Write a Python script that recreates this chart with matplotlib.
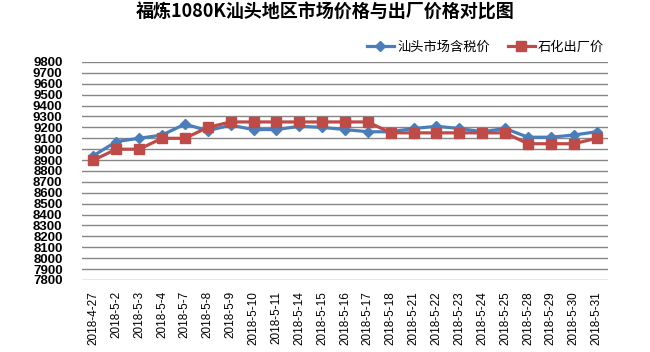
import matplotlib
matplotlib.use("Agg")
import matplotlib.pyplot as plt

plt.rcParams['font.family'] = ['Liberation Sans', 'Noto Sans CJK SC', 'DejaVu Sans']

dates = ["2018-4-27", "2018-5-2", "2018-5-3", "2018-5-4", "2018-5-7", "2018-5-8",
         "2018-5-9", "2018-5-10", "2018-5-11", "2018-5-14", "2018-5-15", "2018-5-16",
         "2018-5-17", "2018-5-18", "2018-5-21", "2018-5-22", "2018-5-23", "2018-5-24",
         "2018-5-25", "2018-5-28", "2018-5-29", "2018-5-30", "2018-5-31"]
shantou = [8940, 9070, 9100, 9130, 9230, 9170, 9220, 9180, 9180, 9210, 9200, 9180,
           9160, 9160, 9190, 9210, 9190, 9160, 9190, 9110, 9110, 9130, 9160]
factory = [8900, 9000, 9000, 9100, 9100, 9200, 9250, 9250, 9250, 9250, 9250, 9250,
           9250, 9150, 9150, 9150, 9150, 9150, 9150, 9050, 9050, 9050, 9100]
yticks = list(range(7800, 9801, 100))

fig = plt.figure(figsize=(6.5, 3.52), dpi=100)
ax = fig.add_axes([82/650, 1 - 280/352, 526/650, 218/352])

x = list(range(len(dates)))
ax.plot(x, shantou, color='#4a7ebb', lw=2.3, marker='D', ms=5.5,
        label='汕头市场含税价', zorder=3)
ax.plot(x, factory, color='#be4b48', lw=2.3, marker='s', ms=7.5,
        label='石化出厂价', zorder=4)

ax.set_xlim(-0.5, len(dates) - 0.5)
ax.set_ylim(7800, 9800)
ax.set_yticks(yticks)
ax.set_yticklabels([str(v) for v in yticks], fontsize=9.5, fontweight='bold')
ax.set_xticks(x)
ax.set_xticklabels(dates, rotation=90, fontsize=8.5)
ax.grid(axis='y', color='#868686', lw=1)
ax.set_axisbelow(True)
for s in ax.spines.values():
    s.set_visible(False)
ax.tick_params(axis='both', length=0)
ax.tick_params(axis='y', pad=14)
ax.tick_params(axis='x', pad=8)

fig.text(0.5, 1 - 12/352, '福炼1080K汕头地区市场价格与出厂价格对比图',
         ha='center', va='center', fontsize=13, fontweight='bold',
         family=['Noto Sans CJK SC', 'DejaVu Sans'])

leg = fig.legend(loc='center right', bbox_to_anchor=(616/650, 1 - 47/352), ncol=2,
                 frameon=False, prop={'family': ['Noto Sans CJK SC', 'DejaVu Sans'], 'size': 9.5},
                 handlelength=2.0, columnspacing=1.4, handletextpad=0.25)

fig.savefig('out.png', dpi=100)
